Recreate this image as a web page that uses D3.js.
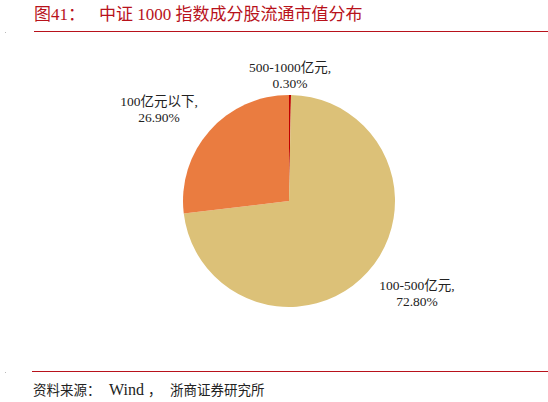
<!DOCTYPE html>
<html>
<head>
<meta charset="utf-8">
<script src="https://cdn.jsdelivr.net/npm/d3@7"></script>
<style>
  html, body { margin: 0; padding: 0; background: #fff; }
  svg text { font-family: "Liberation Serif", "Noto Sans CJK SC", serif; }
</style>
</head>
<body>
<svg id="chart" width="548" height="402"></svg>
<script>
const categories = ['500-1000亿元', '100-500亿元', '100亿元以下'];
const shares = [0.30, 72.80, 26.90];
const labelText = ['0.30%', '72.80%', '26.90%'];
const colors = ['#c00000', '#dcc178', '#ea7c40'];

const svg = d3.select('#chart');
const cx = 289, cy = 201, radius = 106;

// title + rule
svg.append('text')
    .attr('x', 34).attr('y', 20)
    .attr('fill', '#b8121b')
    .style('font-size', '17px')
    .text('图41：');
svg.append('text')
    .attr('x', 99).attr('y', 20)
    .attr('fill', '#b8121b')
    .style('font-size', '17px')
    .text('中证 1000 指数成分股流通市值分布');
svg.append('line')
    .attr('x1', 34).attr('x2', 548).attr('y1', 31.5).attr('y2', 31.5)
    .attr('stroke', '#b8121b').attr('stroke-width', 1.2);
svg.append('rect').attr('x', 5).attr('y', 32).attr('width', 1).attr('height', 1).attr('fill', '#bbb');

const pie = d3.pie().sort(null).value(d => d)
const arcs = pie(shares)
const arc = d3.arc().innerRadius(0).outerRadius(radius)

const g = svg.append('g').attr('transform', `translate(${cx},${cy})`)
g.selectAll('path')
    .data(arcs)
    .join('path')
    .attr('d', arc)
    .attr('fill', (d, i) => colors[i])

// label anchors relative to pie centre
const labelPos = [[1, -129.5], [128, 88.5], [-130, -95.5]]
const labels = svg.append('g').attr('transform', `translate(${cx},${cy})`)
labels.selectAll('g')
    .data(arcs)
    .join('g')
    .attr('transform', (d, i) => `translate(${labelPos[i][0]},${labelPos[i][1]})`)
    .each(function (d, i) {
        const t = d3.select(this).append('text')
            .attr('text-anchor', 'middle')
            .attr('fill', '#222')
            .style('font-size', '13.5px')
        t.append('tspan').attr('x', 0).attr('y', 0).text(categories[i] + ',')
        t.append('tspan').attr('x', 0).attr('y', 16.5).text(labelText[i])
    })

// source
svg.append('line')
    .attr('x1', 32).attr('x2', 548).attr('y1', 371.5).attr('y2', 371.5)
    .attr('stroke', '#b8121b').attr('stroke-width', 1.2);
svg.append('rect').attr('x', 5).attr('y', 372).attr('width', 1).attr('height', 1).attr('fill', '#bbb');
const src = svg.append('text')
    .attr('y', 395)
    .attr('fill', '#222')
    .style('font-size', '13.5px')
src.append('tspan').attr('x', 33).text('资料来源：')
src.append('tspan').attr('x', 109).style('font-size', '16px').text('Wind')
src.append('tspan').attr('x', 148).text('，')
src.append('tspan').attr('x', 170).text('浙商证券研究所')
</script>
</body>
</html>
